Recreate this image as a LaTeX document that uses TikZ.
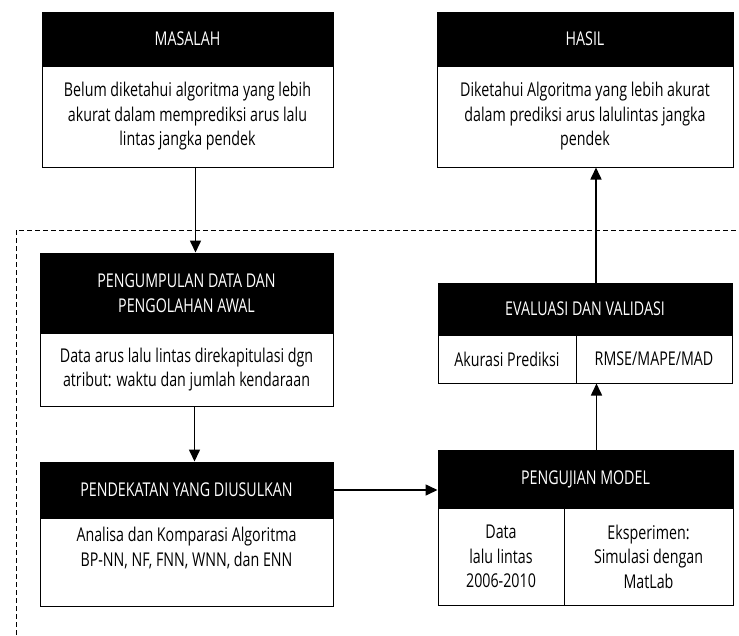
\documentclass[tikz,border=0pt]{standalone}
\usepackage{fontspec}
\setmainfont[FakeStretch=0.75]{Open Sans}
\usetikzlibrary{arrows.meta}

\begin{document}
\begin{tikzpicture}[x=1pt,y=-1pt,
    font=\fontsize{19}{24.5}\selectfont,
    judul/.style={draw,fill=black,text=white,align=center,inner sep=0pt,line width=1pt},
    isi/.style={draw,fill=white,align=center,inner sep=0pt,line width=1pt},
    panah/.style={line width=1.6pt,-{Triangle[width=11pt,length=12pt]}},
    bingkai/.style={line width=1pt,dash pattern=on 5pt off 3pt}]
  \useasboundingbox (0,0) rectangle (739,635);

  % batas penelitian
  \draw[bingkai] (16,635) -- (16,230) -- (739,230);

  \node[judul,minimum width=291,minimum height=54] (masalah) at (187.5,39) {MASALAH};
  \node[isi,minimum width=291,minimum height=101] (masalah-isi) at (187.5,116.5)
    {Belum diketahui algoritma yang lebih\\akurat dalam memprediksi arus lalu\\lintas jangka pendek};

  \node[judul,minimum width=296,minimum height=54] (hasil) at (585,39) {HASIL};
  \node[isi,minimum width=296,minimum height=101] (hasil-isi) at (585,116.5)
    {Diketahui Algoritma yang lebih akurat\\dalam prediksi arus lalulintas jangka\\pendek};

  \node[judul,minimum width=293,minimum height=80] (kumpul) at (186.5,293)
    {PENGUMPULAN DATA DAN\\PENGOLAHAN AWAL};
  \node[isi,minimum width=293,minimum height=73] (kumpul-isi) at (186.5,369.5)
    {Data arus lalu lintas direkapitulasi dgn\\atribut: waktu dan jumlah kendaraan};

  \node[judul,minimum width=293,minimum height=56] (dekat) at (186.5,490)
    {PENDEKATAN YANG DIUSULKAN};
  \node[isi,minimum width=293,minimum height=88] (dekat-isi) at (186.5,562)
    {Analisa dan Komparasi Algoritma\\BP-NN, NF, FNN, WNN, dan ENN\\[6pt]};

  \node[judul,minimum width=295,minimum height=58] (uji) at (585.5,479) {PENGUJIAN MODEL};
  \node[isi,minimum width=126,minimum height=97] (uji-kiri) at (501,556.5)
    {Data\\lalu lintas\\2006-2010};
  \node[isi,minimum width=169,minimum height=97] (uji-kanan) at (648.5,556.5)
    {Eksperimen:\\Simulasi dengan\\MatLab};

  \node[judul,minimum width=294,minimum height=52] (evaluasi) at (585,309)
    {EVALUASI DAN VALIDASI};
  \node[isi,minimum width=138,minimum height=48] (eval-kiri) at (507,359) {Akurasi Prediksi};
  \node[isi,minimum width=156,minimum height=48] (eval-kanan) at (654,359) {RMSE/MAPE/MAD};

  \draw[panah] ([xshift=8]masalah-isi.south) -- ([xshift=8]masalah-isi.south |- kumpul.north);
  \draw[panah] ([xshift=8]kumpul-isi.south) -- ([xshift=8]dekat.north);
  \draw[panah] (dekat.east) -- (dekat.east -| uji.west);
  \draw[panah] ([xshift=11]uji.north) -- ([xshift=11]uji.north |- eval-kanan.south);
  \draw[panah] ([xshift=11]evaluasi.north) -- ([xshift=11]evaluasi.north |- hasil-isi.south);
\end{tikzpicture}
\end{document}
